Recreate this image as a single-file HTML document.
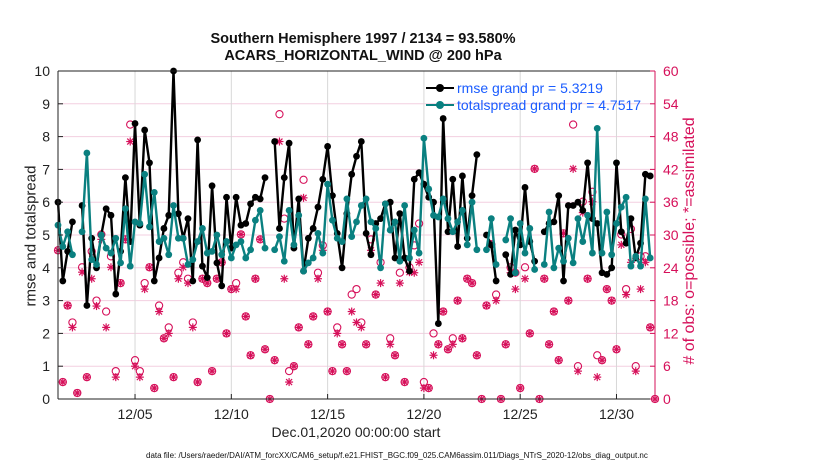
<!DOCTYPE html>
<html><head><meta charset="utf-8"><style>
body{margin:0;background:#fff;}
svg{display:block;font-family:"Liberation Sans",sans-serif;}
</style></head><body>
<svg id="chart" width="830" height="470"></svg>
<script>
const rmse=[6.0,3.6,4.5,5.4,null,5.9,2.85,4.9,4.0,5.0,5.8,5.6,3.2,4.5,6.75,4.8,8.4,5.3,8.2,7.2,3.6,4.3,5.2,5.6,10,5.65,4.9,5.5,3.6,7.9,4.05,3.7,6.5,4.15,3.45,6.15,4.6,6.15,5.3,5.35,5.95,6.15,6.1,6.75,null,7.85,5.2,6.75,7.8,4.6,6.1,3.9,4.9,5.2,5.85,6.7,7.7,6.2,5.05,4.0,5.65,6.85,7.4,7.85,5.05,4.4,5.35,5.5,5.95,6.0,4.3,5.65,4.3,3.9,6.7,6.9,6.55,6.15,6.0,2.3,8.55,5.1,6.7,4.65,6.8,4.9,6.2,7.45,null,5.0,4.7,3.6,null,4.4,3.8,5.15,4.7,6.45,4.8,4.2,null,5.1,5.35,5.4,6.2,3.6,5.9,5.9,6.0,5.75,7.2,5.5,5.35,3.85,3.8,4.0,7.2,5.1,4.75,5.5,4.3,4.75,6.85,6.8,null];
const spread=[5.3,4.65,5.1,4.4,null,5.1,7.5,4.25,4.1,5.0,4.6,4.45,4.9,4.15,5.8,4.05,5.4,5.35,6.85,5.25,6.3,4.8,4.9,4.4,5.9,4.9,4.9,4.1,4.25,4.8,5.2,4.45,4.5,5.0,4.4,4.8,4.3,4.7,4.8,4.3,4.55,5.45,5.75,4.6,null,4.55,4.95,4.2,5.75,4.7,5.6,3.9,4.15,4.3,5.05,4.45,6.55,5.45,4.9,4.8,6.1,4.95,5.4,5.9,6.1,5.4,5.2,4.0,5.95,5.15,5.4,4.2,5.9,4.3,5.15,4.45,7.95,6.4,5.6,5.55,6.1,5.5,5.1,5.4,5.75,4.7,6.0,4.55,null,4.55,5.5,4.1,null,4.85,5.5,3.85,5.35,4.45,5.2,3.95,null,4.1,5.7,4.0,4.6,4.2,4.9,4.15,5.5,4.8,5.6,4.45,8.25,4.45,5.7,4.4,5.35,5.85,6.15,4.05,4.35,4.05,6.1,4.3,null];
const nPoss=[27.2,3.1,17.1,14.0,1.1,24.1,4.0,27.0,18.0,30.1,16.0,26.1,5.1,21.2,29.2,50.2,7.1,5.1,21.2,24.1,2.0,17.1,11.1,13.1,4.0,23.1,25.0,22.0,14.0,3.1,22.0,21.2,5.1,22.0,25.0,12.0,20.1,21.2,30.1,15.1,8.0,22.0,29.2,9.1,0,7.1,52.1,33.0,5.1,6.0,13.1,40.1,10.0,15.1,23.1,28.1,16.0,5.1,13.1,10.0,5.1,19.1,20.1,14.0,10.0,29.2,19.1,25.0,4.0,11.1,8.0,23.1,3.1,24.1,28.1,32.1,3.1,2.0,12.0,10.0,16.0,9.1,11.1,18.0,11.1,22.0,21.2,8.0,0,17.1,28.3,19.1,0,10.0,24.1,23.1,2.0,24.1,12.0,42.1,0,22.0,10.0,16.0,7.1,30.3,18.0,50.2,6.0,36.1,22.0,37.9,8.0,7.1,20.1,18.0,9.1,30.1,20.1,31.1,6.0,26.1,26.1,13.1,0];
const nUsed=[27.2,3.1,17.1,13.1,1.1,23.2,4.0,22.0,17.0,29.2,13.1,24.1,4.0,21.2,29.2,47.1,6.0,4.0,20.1,24.1,2.0,16.0,11.1,12.0,4.0,22.0,24.1,21.2,13.1,3.1,22.0,21.2,5.1,22.0,25.0,12.0,20.1,20.1,30.1,15.1,8.0,22.0,29.2,9.1,0,7.1,47.1,22.0,3.1,6.0,13.1,36.8,10.0,15.1,22.0,27.2,16.0,5.1,12.0,10.0,5.1,16.0,14.0,13.1,10.0,27.2,19.1,21.2,4.0,10.0,8.0,21.2,3.1,23.2,23.1,25.0,2.0,2.0,8.0,10.0,16.0,9.1,10.0,18.0,11.1,22.0,21.2,8.0,0,17.1,28.3,18.0,0,10.0,23.1,20.1,2.0,22.0,12.0,42.1,0,22.0,10.0,16.0,7.1,30.3,18.0,42.1,5.1,34.1,22.0,36.1,4.0,7.1,20.1,18.0,9.1,28.2,19.1,25.0,5.1,20.1,25.0,13.1,0];
const xTickDays=[4,9,14,19,24,29];
const xTickLabels=["12/05","12/10","12/15","12/20","12/25","12/30"];
const yLeftTicks=[0,1,2,3,4,5,6,7,8,9,10];
const yRightTicks=[0,6,12,18,24,30,36,42,48,54,60];

const NS="http://www.w3.org/2000/svg";
const svg=document.getElementById('chart');
const L=58,R=655,T=71,B=399;
const xS=d=>L+(d/31)*(R-L);
const xI=i=>xS(i*0.25);
const yL=v=>B-(v/10)*(B-T);
const yR=v=>B-(v/60)*(B-T);
function mk(tag,attrs,parent){const e=document.createElementNS(NS,tag);for(const k in attrs)e.setAttribute(k,attrs[k]);(parent||svg).appendChild(e);return e;}
const PINK="#d6105a",TEAL="#0a8080";

const grid=mk('g',{});


yRightTicks.forEach(v=>{if(v>0&&v<60)mk('line',{x1:L,x2:R,y1:yR(v),y2:yR(v),stroke:'#f3cfe0','stroke-width':1},grid);});
xTickDays.forEach(d=>mk('line',{x1:xS(d),x2:xS(d),y1:T,y2:B,stroke:'#d8d8d8','stroke-width':1},grid));

const obs=mk('g',{});


nPoss.forEach((v,i)=>{if(v==null)return;const c=mk('circle',{cx:xI(i),cy:yR(v),r:3.6,fill:'none',stroke:PINK,'stroke-width':1.1},obs);

});
nUsed.forEach((v,i)=>{if(v==null)return;const x=xI(i),y=yR(v);const g=mk('g',{stroke:PINK,'stroke-width':1.2},obs);


mk('line',{x1:x-4,x2:x+4,y1:y,y2:y},g);mk('line',{x1:x,x2:x,y1:y-4,y2:y+4},g);
mk('line',{x1:x-3,x2:x+3,y1:y-3,y2:y+3},g);mk('line',{x1:x-3,x2:x+3,y1:y+3,y2:y-3},g);});

function series(arr,color,name){
  const g=mk('g',{});
  
  
  let d='',pen=false;
  arr.forEach((v,i)=>{if(v==null){pen=false;return;}d+=(pen?'L':'M')+xI(i).toFixed(1)+','+yL(v).toFixed(1);pen=true;});
  mk('path',{d:d,fill:'none',stroke:color,'stroke-width':2.4,'stroke-linejoin':'round'},g);
  arr.forEach((v,i)=>{if(v==null)return;const c=mk('circle',{cx:xI(i),cy:yL(v),r:3.4,fill:color},g);
  
  });
}
series(rmse,'#000','rmse-series');
series(spread,TEAL,'totalspread-series');

const fr=mk('g',{});


mk('line',{x1:L,x2:R,y1:T,y2:T,stroke:'#222','stroke-width':1},fr);
mk('line',{x1:L,x2:R,y1:B,y2:B,stroke:'#222','stroke-width':1},fr);
mk('line',{x1:L,x2:L,y1:T,y2:B,stroke:'#222','stroke-width':1},fr);
mk('line',{x1:R,x2:R,y1:T,y2:B,stroke:PINK,'stroke-width':1},fr);

yLeftTicks.forEach(v=>{
  mk('line',{x1:L,x2:L+5,y1:yL(v),y2:yL(v),stroke:'#222'},fr);
  const t=mk('text',{x:L-8,y:yL(v)+5,'text-anchor':'end','font-size':14,fill:'#222'});t.textContent=v;
  
  
});
yRightTicks.forEach(v=>{
  mk('line',{x1:R-5,x2:R,y1:yR(v),y2:yR(v),stroke:PINK},fr);
  const t=mk('text',{x:R+8,y:yR(v)+5,'text-anchor':'start','font-size':14,fill:PINK});t.textContent=v;
  
  
});
xTickDays.forEach((d,k)=>{
  mk('line',{x1:xS(d),x2:xS(d),y1:B-5,y2:B,stroke:'#222'},fr);
  const t=mk('text',{x:xS(d),y:B+20,'text-anchor':'middle','font-size':14,fill:'#222'});t.textContent=xTickLabels[k];
  
  
});
</script>
<div style="position:absolute;left:0;top:0;width:830px;height:470px;pointer-events:none;font-family:'Liberation Sans',sans-serif;">
  <div style="position:absolute;left:0;width:726px;top:31px;text-align:center;font-weight:bold;font-size:14.5px;line-height:17px;color:#111;">Southern Hemisphere 1997 / 2134 = 93.580%<br>ACARS_HORIZONTAL_WIND @ 200 hPa</div>
  <div style="position:absolute;left:31px;top:236px;transform:translate(-50%,-50%) rotate(-90deg);white-space:nowrap;font-size:15px;color:#222;">rmse and totalspread</div>
  <div style="position:absolute;left:690px;top:241px;transform:translate(-50%,-50%) rotate(-90deg);white-space:nowrap;font-size:16px;color:#d6105a;"># of obs: o=possible; *=assimilated</div>
  <div style="position:absolute;left:356px;top:424px;transform:translateX(-50%);white-space:nowrap;font-size:14px;color:#222;">Dec.01,2020 00:00:00 start</div>
  <div style="position:absolute;left:146px;top:451px;white-space:nowrap;font-size:8px;color:#111;">data file: /Users/raeder/DAI/ATM_forcXX/CAM6_setup/f.e21.FHIST_BGC.f09_025.CAM6assim.011/Diags_NTrS_2020-12/obs_diag_output.nc</div>
  <div style="position:absolute;left:424px;top:79px;width:200px;height:36px;">
    <div style="position:absolute;left:0;top:0;height:18px;white-space:nowrap;">
      <span style="position:absolute;left:2px;top:8px;width:28px;height:2px;background:#000;"></span>
      <span style="position:absolute;left:12px;top:5px;width:8px;height:8px;border-radius:50%;background:#000;"></span>
      <span style="position:absolute;left:33px;top:0;font-size:14px;color:#1a5cff;line-height:18px;">rmse grand pr = 5.3219</span>
    </div>
    <div style="position:absolute;left:0;top:17px;height:18px;white-space:nowrap;">
      <span style="position:absolute;left:2px;top:8px;width:28px;height:2px;background:#0a8080;"></span>
      <span style="position:absolute;left:12px;top:5px;width:8px;height:8px;border-radius:50%;background:#0a8080;"></span>
      <span style="position:absolute;left:33px;top:0;font-size:14px;color:#1a5cff;line-height:18px;">totalspread grand pr = 4.7517</span>
    </div>
  </div>
</div>
</body></html>
